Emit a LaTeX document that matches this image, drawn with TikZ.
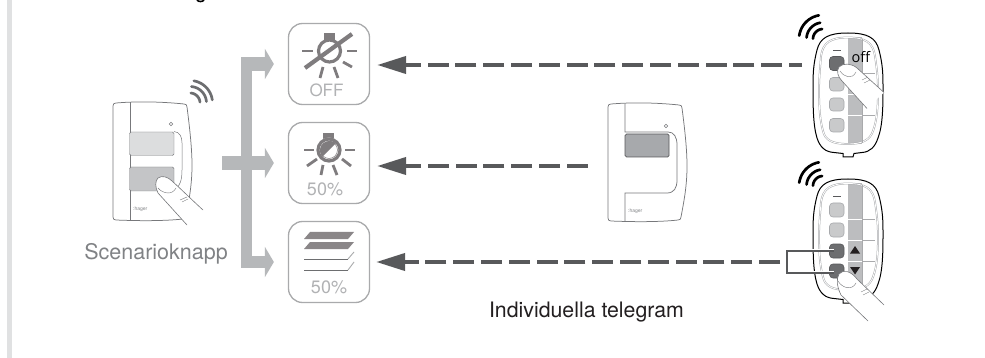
\documentclass[tikz,border=0pt]{standalone}
\usepackage{fontspec}
\setmainfont{TeX Gyre Heros}
\newfontfamily\remfont{Open Sans}
\usetikzlibrary{arrows.meta}
\definecolor{barL}{HTML}{E0E1E2}
\definecolor{boxE}{HTML}{A9AAAC}
\definecolor{trunkG}{HTML}{B6B8BA}
\definecolor{darkG}{HTML}{58595B}
\definecolor{iconG}{HTML}{7F7C7E}
\definecolor{slatG}{HTML}{8A8688}
\definecolor{lblG}{HTML}{B1B2B4}
\definecolor{txtG}{HTML}{808285}
\definecolor{txtK}{HTML}{231F20}
\definecolor{btnL}{HTML}{C9CACB}
\definecolor{btnD}{HTML}{6D6E70}
\definecolor{colG}{HTML}{BCBDBF}
\definecolor{devE}{HTML}{77787B}
\definecolor{keyL}{HTML}{DCDDDE}
\definecolor{keyM}{HTML}{C4C5C7}
\definecolor{keyD}{HTML}{A7A9AC}
\tikzset{
  iconbox/.style={draw=boxE,line width=1.3pt,rounded corners=14pt,minimum width=81pt,minimum height=81pt,inner sep=0pt,fill=white},
  lbl/.style={text=lblG,font=\fontsize{17}{17}\selectfont,inner sep=0pt,anchor=base},
  ray/.style={draw=iconG,line width=2.8pt},
  fat/.style={draw=trunkG,shorten >=14pt},
  tele/.style={draw=darkG,line width=4pt,dash pattern=on 21pt off 6.8pt,shorten >=7pt,-{Triangle[length=29pt,width=17pt]}},
  devline/.style={draw=devE,line width=.75pt},
  fingerline/.style={draw=devE,line width=.6pt},
  radio/.style={line width=2.7pt,line cap=round},
  rbtn/.style={draw=keyD,line width=.6pt,fill=btnL,rounded corners=3.5pt},
  dbtn/.style={draw=darkG,line width=.6pt,fill=btnD,rounded corners=3.5pt},
}
\newcommand{\sigarc}[6]{\draw[radio,draw=#6] plot[smooth,samples=12,domain=#4:#5] ({#1+#3*cos(\x)},{#2-#3*sin(\x)});}
\newcommand{\remotebody}{%
  \draw[black,line width=1pt,fill=white] (848,33) .. controls (868,33) and (876,38) .. (879,50) .. controls (882,62) and (883,70) .. (883,85) .. controls (883,105) and (883,125) .. (878,138) .. controls (875,147) and (870,152) .. (862,152.5) -- (854,153.5) -- (853,157) -- (843,157) -- (843,153.5) -- (834,152.5) .. controls (825,152) and (820,147) .. (817,138) .. controls (813,125) and (813,105) .. (813,85) .. controls (813,70) and (814,62) .. (817,50) .. controls (820,38) and (828,33) .. (848,33) -- cycle;
  \fill[colG] (848,37) rectangle (862,144);
  \foreach \w/\c in {1.8/keyD,.8/white}{
    \draw[\c,line width=\w pt] (848,37.5) .. controls (866,37.5) and (873,43) .. (875,56) .. controls (877,70) and (878,78) .. (878,90) .. controls (878,108) and (877,120) .. (873,131) .. controls (870,140) and (862,144) .. (848,144) .. controls (832,144) and (825,140) .. (823,131) .. controls (820,120) and (819,108) .. (819,90) .. controls (819,78) and (820,70) .. (821,56) .. controls (823,43) and (830,37.5) .. (848,37.5) -- cycle;}
  \foreach \yy in {73,94,115}{
    \draw[white,line width=.8pt] (848,\yy) -- (862,\yy);
    \draw[boxE,line width=.6pt] (862,\yy) -- (875,\yy);}
  \draw[boxE,line width=.6pt] (862,39) -- (862,143);
  \draw[darkG,line width=1pt] (833,50.5) -- (841,50.5);
}
\begin{document}
\begin{tikzpicture}[x=1pt,y=-1pt]
\useasboundingbox (0,0) rectangle (985,358);
\fill[white] (0,0) rectangle (985,358);
\fill[barL] (7,0) rectangle (12,358);
\draw[black,line width=1.6pt] (197,0) .. controls (198,2) and (203,2) .. (204,0);

% icon boxes
\node[iconbox] (box1) at (329,64) {};
\node[iconbox] (box2) at (329,163) {};
\node[iconbox] (box3) at (329,262) {};
\node[lbl] (off) at (326.5,97) {OFF};
\node[lbl,font=\fontsize{18}{18}\selectfont] (pct1) at (325,196) {50\%};
\node[lbl,font=\fontsize{18}{18}\selectfont] (pct2) at (329,293) {50\%};

% bulb off
\fill[iconG] (324,33) rectangle (335,42);
\draw[ray] (302,51) -- (313,51);
\draw[ray] (347,51) -- (357,51);
\draw[ray] (343,62) -- (352,67);
\draw[ray] (334,67) -- (338,78);
\draw[ray] (323,67) -- (320,78);
\draw[iconG,line width=3.2pt,fill=white] (329.5,51) circle (11);
\draw[iconG,line width=4.2pt] (305,68) -- (352,34);

% bulb half
\fill[iconG] (323,133) rectangle (334,142);
\draw[ray] (304,150) -- (314,150);
\draw[ray] (345,150) -- (355,150);
\draw[ray] (342,159) -- (351,166);
\draw[ray] (333,165) -- (337,175);
\draw[ray] (323,165) -- (321,175);
\draw[ray] (317,159) -- (307,166);
\fill[white] (329,150) circle (12.5);
\draw[iconG,line width=3.2pt] (329,150) circle (11);
\fill[iconG] (322,157) -- (336,143) .. controls (328,137) and (315,145) .. (322,157) -- cycle;
\draw[iconG,line width=.5pt] (329,150) circle (8.5);

% blind
\fill[slatG] (310,232) -- (354,232) -- (348,239) -- (304,239) -- cycle;
\fill[slatG] (310,242) -- (354,242) -- (348,249) -- (304,249) -- cycle;
\draw[btnD,line width=.9pt] (304,259) -- (348,259);
\draw[boxE,line width=.9pt] (348,259) -- (354,252);
\draw[btnD,line width=.9pt] (304,270) -- (348,270);
\draw[boxE,line width=.9pt] (348,270) -- (354,262);

% fat connector
\coordinate (hub) at (222,163);
\coordinate (trunkT) at (241,64);
\coordinate (trunkB) at (241,262);
\fill[trunkG] (241,57) rectangle (251.5,268);
\draw[fat,line width=13.5pt,-{Triangle[length=9pt,width=30pt]}] (trunkT) -- (box1.west);
\draw[fat,line width=14pt,-{Triangle[length=9pt,width=30pt]}] (hub) -- (box2.west);
\draw[fat,line width=12pt,-{Triangle[length=9pt,width=30pt]}] (trunkB) -- (box3.west);

% left device
\draw[devline,fill=white] (116,103) .. controls (140,101) and (165,102) .. (184,104) .. controls (186,104) and (187,105) .. (187,107) .. controls (190,130) and (192,150) .. (192,165) .. controls (192,185) and (189,200) .. (186,216) .. controls (186,218) and (185,219) .. (183,219) .. controls (165,221) and (140,221) .. (116,220) .. controls (114,220) and (113,219) .. (113,217) -- (113,106) .. controls (113,104) and (114,103) .. (116,103) -- cycle;
\draw[devline] (130,102.5) -- (130,220.5);
\draw[devline,line width=.5pt] (174,131.5) .. controls (180,132) and (182,137) .. (182,143) -- (182,170) .. controls (182,180) and (180,186) .. (175,190);
\draw[devline,line width=.5pt] (171,124) circle (1.8);
\draw[devE,line width=.4pt,fill=keyL,rounded corners=1.5pt] (129.5,132) rectangle (174,155.5);
\draw[devE,line width=.4pt,fill=keyM,rounded corners=1.5pt] (129.5,167) rectangle (174,191);
\node[inner sep=0pt,text=txtG,font=\fontsize{5}{5}\selectfont,anchor=base west] (logoA) at (133,211) {:hager};
\sigarc{190}{103}{22.5}{8}{80}{btnD}
\sigarc{190}{103}{16.5}{5}{85}{btnD}
\sigarc{190}{103}{10}{5}{85}{btnD}
\fill[white] (203,210) .. controls (192,200) and (182,190) .. (172,181) .. controls (168,177) and (162,175) .. (158,178) .. controls (155,181) and (155,187) .. (158,193) -- (187,225) -- cycle;
\draw[fingerline] (203,210) .. controls (192,200) and (182,190) .. (172,181) .. controls (168,177) and (162,175) .. (158,178) .. controls (155,181) and (155,187) .. (158,193) -- (187,225);
\draw[fingerline,line width=.4pt] (158,188) .. controls (162,193) and (172,196) .. (176,188);
\draw[fingerline,line width=.4pt] (180,200) -- (187,197);
\draw[fingerline,line width=.4pt] (182,202) -- (188,199);
\node[inner sep=0pt,text=txtG,font=\fontsize{21.5}{21.5}\selectfont,anchor=base] (scen) at (156,259) {Scenarioknapp};

% middle device
\draw[devline,fill=white] (611,104) .. controls (635,102) and (660,103) .. (679,105) .. controls (681,105) and (682,106) .. (682,108) .. controls (685,131) and (687,150) .. (687,166) .. controls (687,186) and (684,201) .. (681,217) .. controls (681,219) and (680,220) .. (678,220) .. controls (660,222) and (635,222) .. (611,221) .. controls (609,221) and (608,220) .. (608,218) -- (608,107) .. controls (608,105) and (609,104) .. (611,104) -- cycle;
\draw[devline] (625,104) -- (625,132) -- (668,132) .. controls (674,132) and (677,137) .. (677,145) -- (677,180) .. controls (677,188) and (674,193) .. (667,193) -- (625,193) -- (625,222);
\draw[devline,line width=.5pt] (666,126) circle (1.8);
\draw[darkG,line width=.7pt,fill=keyD,rounded corners=1.5pt] (625,134) rectangle (669,157);
\node[inner sep=0pt,text=txtG,font=\fontsize{5}{5}\selectfont,anchor=base west] (logoB) at (628,212) {:hager};

% remote 1
\remotebody
\draw[dbtn] (829.5,56.5) rectangle (844,70.5);
\draw[rbtn] (829.5,77.5) rectangle (844,91);
\draw[rbtn] (829.5,98) rectangle (844,111);
\draw[rbtn] (829.5,118.5) rectangle (844,132);
\node[inner sep=0pt,text=black,font=\remfont\fontsize{14.5}{14.5}\selectfont,anchor=base] (offt) at (861,63) {off};
\sigarc{823}{39}{24}{100}{172}{black}
\sigarc{823}{39}{16.5}{100}{175}{black}
\sigarc{823}{39}{10}{95}{178}{black}
\fill[white] (884,92.5) -- (857,68) .. controls (851,63) and (843,63) .. (839,67) .. controls (836,71) and (838,77) .. (842,81) -- (867,108.5) -- cycle;
\draw[fingerline] (884,92.5) -- (857,68) .. controls (851,63) and (843,63) .. (839,67) .. controls (836,71) and (838,77) .. (842,81) -- (867,108.5);
\draw[fingerline,line width=.4pt] (840,71) .. controls (844,77) and (852,80) .. (856,72);
\draw[fingerline,line width=.4pt] (862,80) -- (868,77);
\draw[fingerline,line width=.4pt] (864,83) -- (870,80);

% remote 2
\begin{scope}[shift={(0,146)}]
\remotebody
\draw[rbtn] (829.5,57) rectangle (844,71);
\draw[rbtn] (829.5,77) rectangle (844,91);
\draw[dbtn] (829.5,98) rectangle (844,112);
\draw[dbtn] (829.5,118) rectangle (844,132);
\fill[txtK] (855,100) -- (860,107.5) -- (850,107.5) -- cycle;
\fill[txtK] (855,128.5) -- (860,121) -- (850,121) -- cycle;
\sigarc{823}{40}{24}{100}{172}{black}
\sigarc{823}{40}{16.5}{100}{175}{black}
\sigarc{823}{40}{10}{95}{178}{black}
\end{scope}
\coordinate (junc) at (787,262);
\coordinate (k1) at (834,250.7);
\coordinate (k2) at (834,272.7);
\draw[white,line width=3.4pt] (k1) -- (junc |- k1) -- (junc |- k2) -- (k2);
\draw[darkG,line width=1.8pt] (k1) -- (junc |- k1) -- (junc |- k2) -- (k2);
\fill[white] (884,305) -- (857,279) .. controls (851,271) and (843,269) .. (839,274) .. controls (836,279) and (837,287) .. (841,295) -- (868,321) -- cycle;
\draw[fingerline] (884,305) -- (857,279) .. controls (851,271) and (843,269) .. (839,274) .. controls (836,279) and (837,287) .. (841,295) -- (868,321);
\draw[fingerline,line width=.4pt] (838,281) .. controls (842,288) and (852,291) .. (856,283);
\draw[fingerline,line width=.4pt] (861,292) -- (867,289);
\draw[fingerline,line width=.4pt] (863,295) -- (869,292);

% telegram arrows
\coordinate (s1) at (802,65);
\coordinate (s2) at (587.8,166);
\coordinate (s3) at (780,262);
\draw[tele,dash phase=8pt] (s1) -- (s1 -| box1.east);
\draw[tele] (s2) -- (s2 -| box2.east);
\draw[tele,shorten >=6pt] (s3) -- (s3 -| box3.east);
\node[inner sep=0pt,text=txtK,font=\fontsize{21.3}{21.3}\selectfont,anchor=base] (indiv) at (586.5,317) {Individuella telegram};
\end{tikzpicture}
\end{document}
